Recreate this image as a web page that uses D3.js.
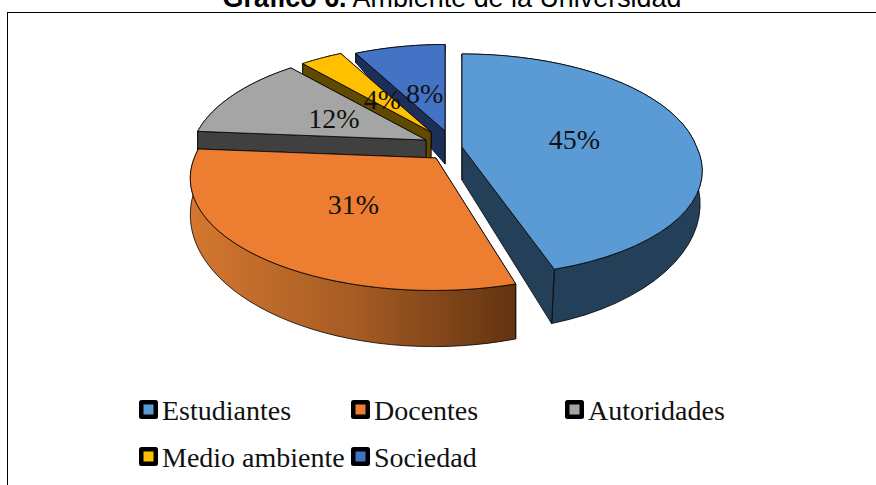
<!DOCTYPE html>
<html><head><meta charset="utf-8">
<script src="https://cdn.jsdelivr.net/npm/d3@7"></script>
<style>html,body{margin:0;padding:0;background:#fff;overflow:hidden}svg{display:block}</style>
</head><body><div id="c"></div>
<script>
// data
const categories = ["Estudiantes","Docentes","Autoridades","Medio ambiente","Sociedad"];
const values = [45.4,30.9,12.3,3.6,7.8];
const titleBold = "Gráfico 6.";
const titleRest = " Ambiente de la Universidad";

// layout & style
const W=876,H=485;
const topColors=["#5B9BD5","#ED7D31","#A5A5A5","#FFC000","#4472C4"];
const wallColors=["#243F58","url(#og)","#404040","#614900","#1B2F58"];
const apex=[[462,147],[436,158],[426,140],[431,132],[445,131]];
const sliceScale=[0.99,1.02,0.98,0.93,0.92];
const frontShear=[0.1,-0.02,0,0,0];
const frontY=[0.98,0.98,1,1,1];
const shrinkOn=[true,false,false,false,false];
const rimOnTop=[false,true,false,false,false];
const nearWallFirst=[true,true,false,false,false];
const labelR=[0.49,0.5,0.46,0.41,0.41];
const Rx=237,G=110,K=0.17;
const legendX=[139,351,565,139,351], legendY=[410,410,410,457,457];
const serif='"Liberation Serif","DejaVu Serif",serif';

const svg=d3.select("#c").append("svg").attr("width",W).attr("height",H).attr("viewBox",[0,0,W,H]);
const og=svg.append("defs").append("linearGradient").attr("id","og").attr("gradientUnits","userSpaceOnUse")
  .attr("x1",191).attr("x2",516).attr("y1",0).attr("y2",0);
og.append("stop").attr("offset",0).attr("stop-color","#D4772F");
og.append("stop").attr("offset",0.5).attr("stop-color","#A65C24");
og.append("stop").attr("offset",1).attr("stop-color","#633310");

svg.append("rect").attr("x",7.5).attr("y",12.5).attr("width",W+10).attr("height",H+10).attr("fill","#fff").attr("stroke","#000").attr("stroke-width",1);

const title=svg.append("text").attr("x",452).attr("y",7).attr("text-anchor","middle")
  .attr("font-family",'"Liberation Sans",Arial,sans-serif').attr("font-size",26.9).attr("fill","#000");
title.append("tspan").attr("font-weight","bold").text(titleBold);
title.append("tspan").attr("xml:space","preserve").text(titleRest);

const pie=d3.pie().sort(null).startAngle(0).endAngle(2*Math.PI);
const arcs=pie(values);
const depth=d3.scaleLinear().domain([-85,0,126]).range([7,33,55]);
const baseShrink=d3.scaleLinear().domain([-10,100]).range([1,0.97]).clamp(true);
function proj(i,theta,r){
  const s=Math.sin(theta),c=Math.cos(theta),den=1+K*r*c,m=sliceScale[i];
  const x=Rx*m*r*s/den, y=-G*m*r*c/den, f=Math.max(y,0);
  return [x+frontShear[i]*f, y-(1-frontY[i])*f];
}
const top2=(i,p)=>[apex[i][0]+p[0],apex[i][1]+p[1]];
const base2=(i,p)=>[apex[i][0]+p[0]*(shrinkOn[i]?baseShrink(p[1]):1),apex[i][1]+p[1]+depth(p[1])];
const line=d3.line();
const order=[4,3,2,1,0];
const g=svg.append("g").attr("stroke","#000").attr("stroke-width",0.8).attr("stroke-linejoin","round");
order.forEach(i=>{
  const a=arcs[i];
  const ts=d3.range(0,41).map(t=>a.startAngle+(a.endAngle-a.startAngle)*t/40);
  const rim=ts.map(t=>proj(i,t,1));
  const o=[0,0];
  const wall=(p)=>"M"+[top2(i,o),top2(i,p),base2(i,p),base2(i,o)].join("L")+"Z";
  const drawRim=()=>g.append("path").attr("d",line(rim.map(p=>top2(i,p)).concat(rim.slice().reverse().map(p=>base2(i,p))))+"Z").attr("fill",wallColors[i]);
  if(!rimOnTop[i]) drawRim();
  const walls=nearWallFirst[i]?[rim[0],rim[40]]:[rim[40],rim[0]];
  walls.forEach(p=>g.append("path").attr("d",wall(p)).attr("fill",wallColors[i]));
  if(rimOnTop[i]) drawRim();
  g.append("path").attr("d",line([top2(i,o)].concat(rim.map(p=>top2(i,p))))+"Z").attr("fill",topColors[i]);
});
// percent labels
const fmt=d3.format(".0f");
svg.append("g").selectAll("text").data(arcs).join("text")
  .attr("x",(d,i)=>top2(i,proj(i,(d.startAngle+d.endAngle)/2,labelR[i]))[0])
  .attr("y",(d,i)=>top2(i,proj(i,(d.startAngle+d.endAngle)/2,labelR[i]))[1])
  .attr("dy","0.35em").attr("text-anchor","middle").attr("font-family",serif).attr("font-size",28).attr("fill","#111")
  .text(d=>fmt(d.value)+"%");
// legend
const lg=svg.append("g").selectAll("g").data(categories).join("g").attr("transform",(d,i)=>`translate(${legendX[i]},${legendY[i]})`);
lg.append("rect").attr("x",0).attr("y",-10).attr("width",19).attr("height",19).attr("rx",2.5).attr("fill","#000");
lg.append("rect").attr("x",4.5).attr("y",-5.5).attr("width",10).attr("height",10).attr("fill",(d,i)=>topColors[i]);
lg.append("text").attr("x",23).attr("y",0).attr("dy","0.35em").attr("font-family",serif).attr("font-size",28).attr("fill","#111").text(d=>d);
</script></body></html>
